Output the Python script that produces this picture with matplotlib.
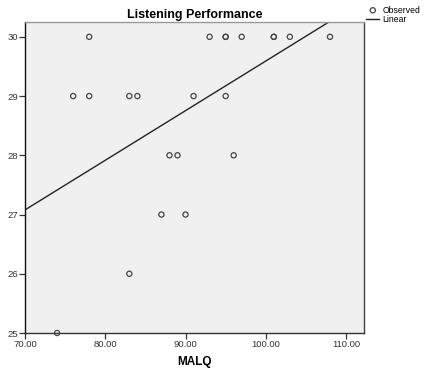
import numpy as np
import matplotlib.pyplot as plt

plt.rcParams['font.family'] = ['Liberation Sans', 'DejaVu Sans']

# observed points (MALQ, listening score)
malq = [78, 93, 95, 95, 97, 101, 101, 103, 108,
        76, 78, 83, 84, 91, 95,
        88, 89, 96,
        87, 90,
        83,
        74]
listening = [30, 30, 30, 30, 30, 30, 30, 30, 30,
             29, 29, 29, 29, 29, 29,
             28, 28, 28,
             27, 27,
             26,
             25]

x_ticks = [70, 80, 90, 100, 110]
y_ticks = [25, 26, 27, 28, 29, 30]

fig = plt.figure(figsize=(4.25, 3.7), dpi=100)
ax = fig.add_axes([0.0588, 0.1, 0.797, 0.8405])
ax.set_facecolor('#f0f0f0')

ax.scatter(malq, listening, s=14, facecolors='none', edgecolors='#444444',
           linewidths=0.9, zorder=3, clip_on=False, label='Observed')

slope, intercept = np.polyfit(malq, listening, 1)
xs = np.array([70, 112.2])
ax.plot(xs, intercept + slope * xs, color='#222222', linewidth=1.0, label='Linear')

ax.set_xlim(70, 112.2)
ax.set_ylim(25, 30.25)
ax.set_xticks(x_ticks)
ax.set_xticklabels([f"{v:.2f}" for v in x_ticks])
ax.set_yticks(y_ticks)
ax.tick_params(labelsize=6.8, length=4, width=0.9, colors='#333333', pad=1)

ax.spines['left'].set_color('#111111')
ax.spines['bottom'].set_color('#333333')
ax.spines['right'].set_color('#444444')
ax.spines['top'].set_color('#999999')
for s in ax.spines.values():
    s.set_linewidth(1.0)

ax.set_title("Listening Performance", fontsize=9, fontweight='bold', pad=3)
ax.set_xlabel("MALQ", fontsize=8.5, fontweight='bold', labelpad=5)

fig.legend(loc='upper left', bbox_to_anchor=(0.862, 0.985), frameon=False,
           fontsize=6.2, handlelength=1.5, handletextpad=0.35, labelspacing=0.1,
           borderaxespad=0, borderpad=0)

fig.savefig("out.png", dpi=100)
